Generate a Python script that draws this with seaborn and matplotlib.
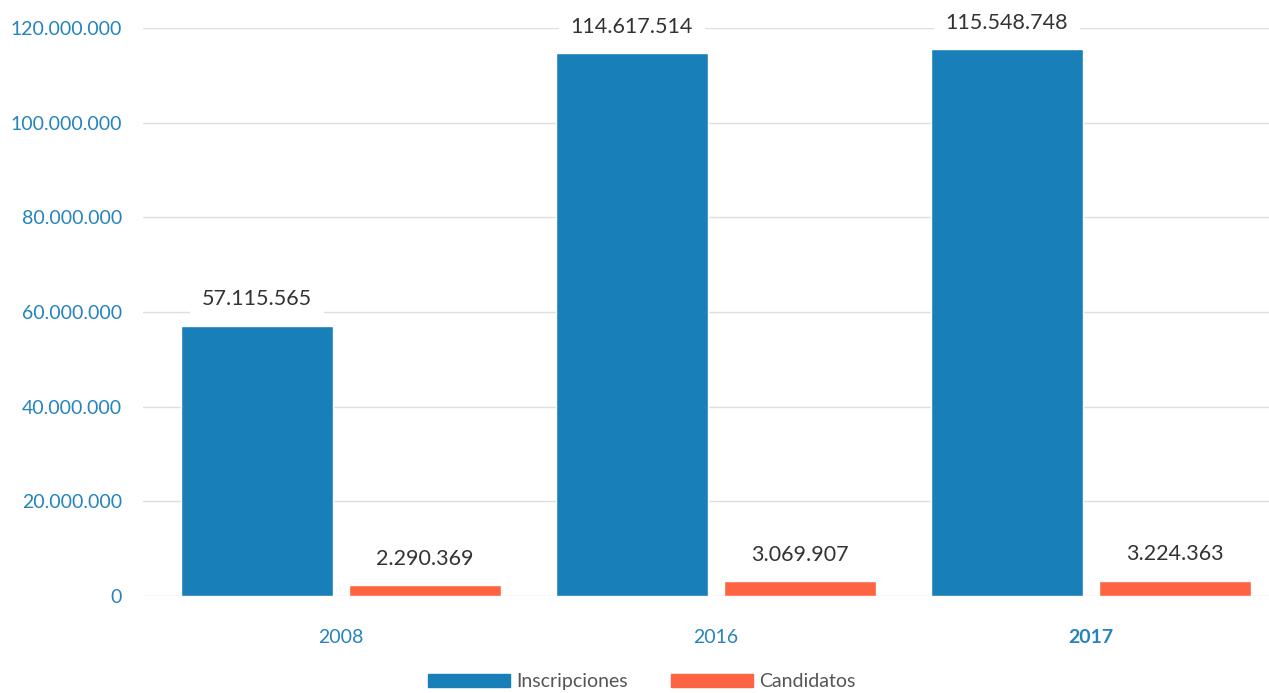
import matplotlib
matplotlib.use("Agg")
import matplotlib.pyplot as plt
import matplotlib.ticker as mticker
import pandas as pd
import seaborn as sns

years = ["2008", "2016", "2017"]
inscripciones = [57115565, 114617514, 115548748]
candidatos = [2290369, 3069907, 3224363]
series_names = ["Inscripciones", "Candidatos"]
y_ticks = [0, 20000000, 40000000, 60000000, 80000000, 100000000, 120000000]

blue = "#187fb8"
orange = "#ff6442"
tick_blue = "#2583bd"

df = pd.DataFrame({
    "year": years * 2,
    "value": inscripciones + candidatos,
    "serie": [series_names[0]] * 3 + [series_names[1]] * 3,
})


def dots(v):
    return f"{int(v):,}".replace(",", ".")


sns.set_style("white")
plt.rcParams["font.family"] = ["Lato", "DejaVu Sans"]

fig = plt.figure(figsize=(12.69, 6.93), dpi=100)
ax = fig.add_axes([143 / 1269, 97 / 693, 1 - 143 / 1269, 568 / 693])

sns.barplot(data=df, x="year", y="value", hue="serie", order=years,
            hue_order=series_names, palette=[blue, orange],
            width=0.896, gap=0.095, saturation=1, ax=ax, legend=False)

ax.set_ylim(0, 120000000)
ax.set_xlim(-0.528, 2.475)
ax.set_yticks(y_ticks)
ax.yaxis.set_major_formatter(mticker.FuncFormatter(lambda v, p: dots(v)))
ax.grid(axis="y", color="#dedede", linewidth=1)
ax.set_axisbelow(True)
for s in ax.spines.values():
    s.set_visible(False)
ax.tick_params(axis="y", length=0, pad=15, labelsize=14, labelcolor=tick_blue)
ax.tick_params(axis="x", length=0, pad=24, labelsize=14, labelcolor=tick_blue)
ax.get_xticklabels()[2].set_fontweight("bold")
ax.set_xlabel("")
ax.set_ylabel("")

for bar in ax.patches:
    h = bar.get_height()
    if h <= 0:
        continue
    ax.annotate(dots(h), (bar.get_x() + bar.get_width() / 2, h),
                xytext=(0, 19), textcoords="offset points",
                ha="center", va="center", fontsize=15.5, color="#333333",
                annotation_clip=False,
                bbox=dict(facecolor="white", edgecolor="none",
                          boxstyle="square,pad=0.55"))

handles = [plt.Rectangle((0, 0), 1, 1, color=blue),
           plt.Rectangle((0, 0), 1, 1, color=orange)]
fig.legend(handles, series_names, loc="center", bbox_to_anchor=(0.506, 0.016),
           ncol=2, frameon=False, fontsize=14, labelcolor="#555555",
           handlelength=4.2, handleheight=0.6, handletextpad=0.35,
           columnspacing=2.2)

fig.savefig("out.png", dpi=100)
